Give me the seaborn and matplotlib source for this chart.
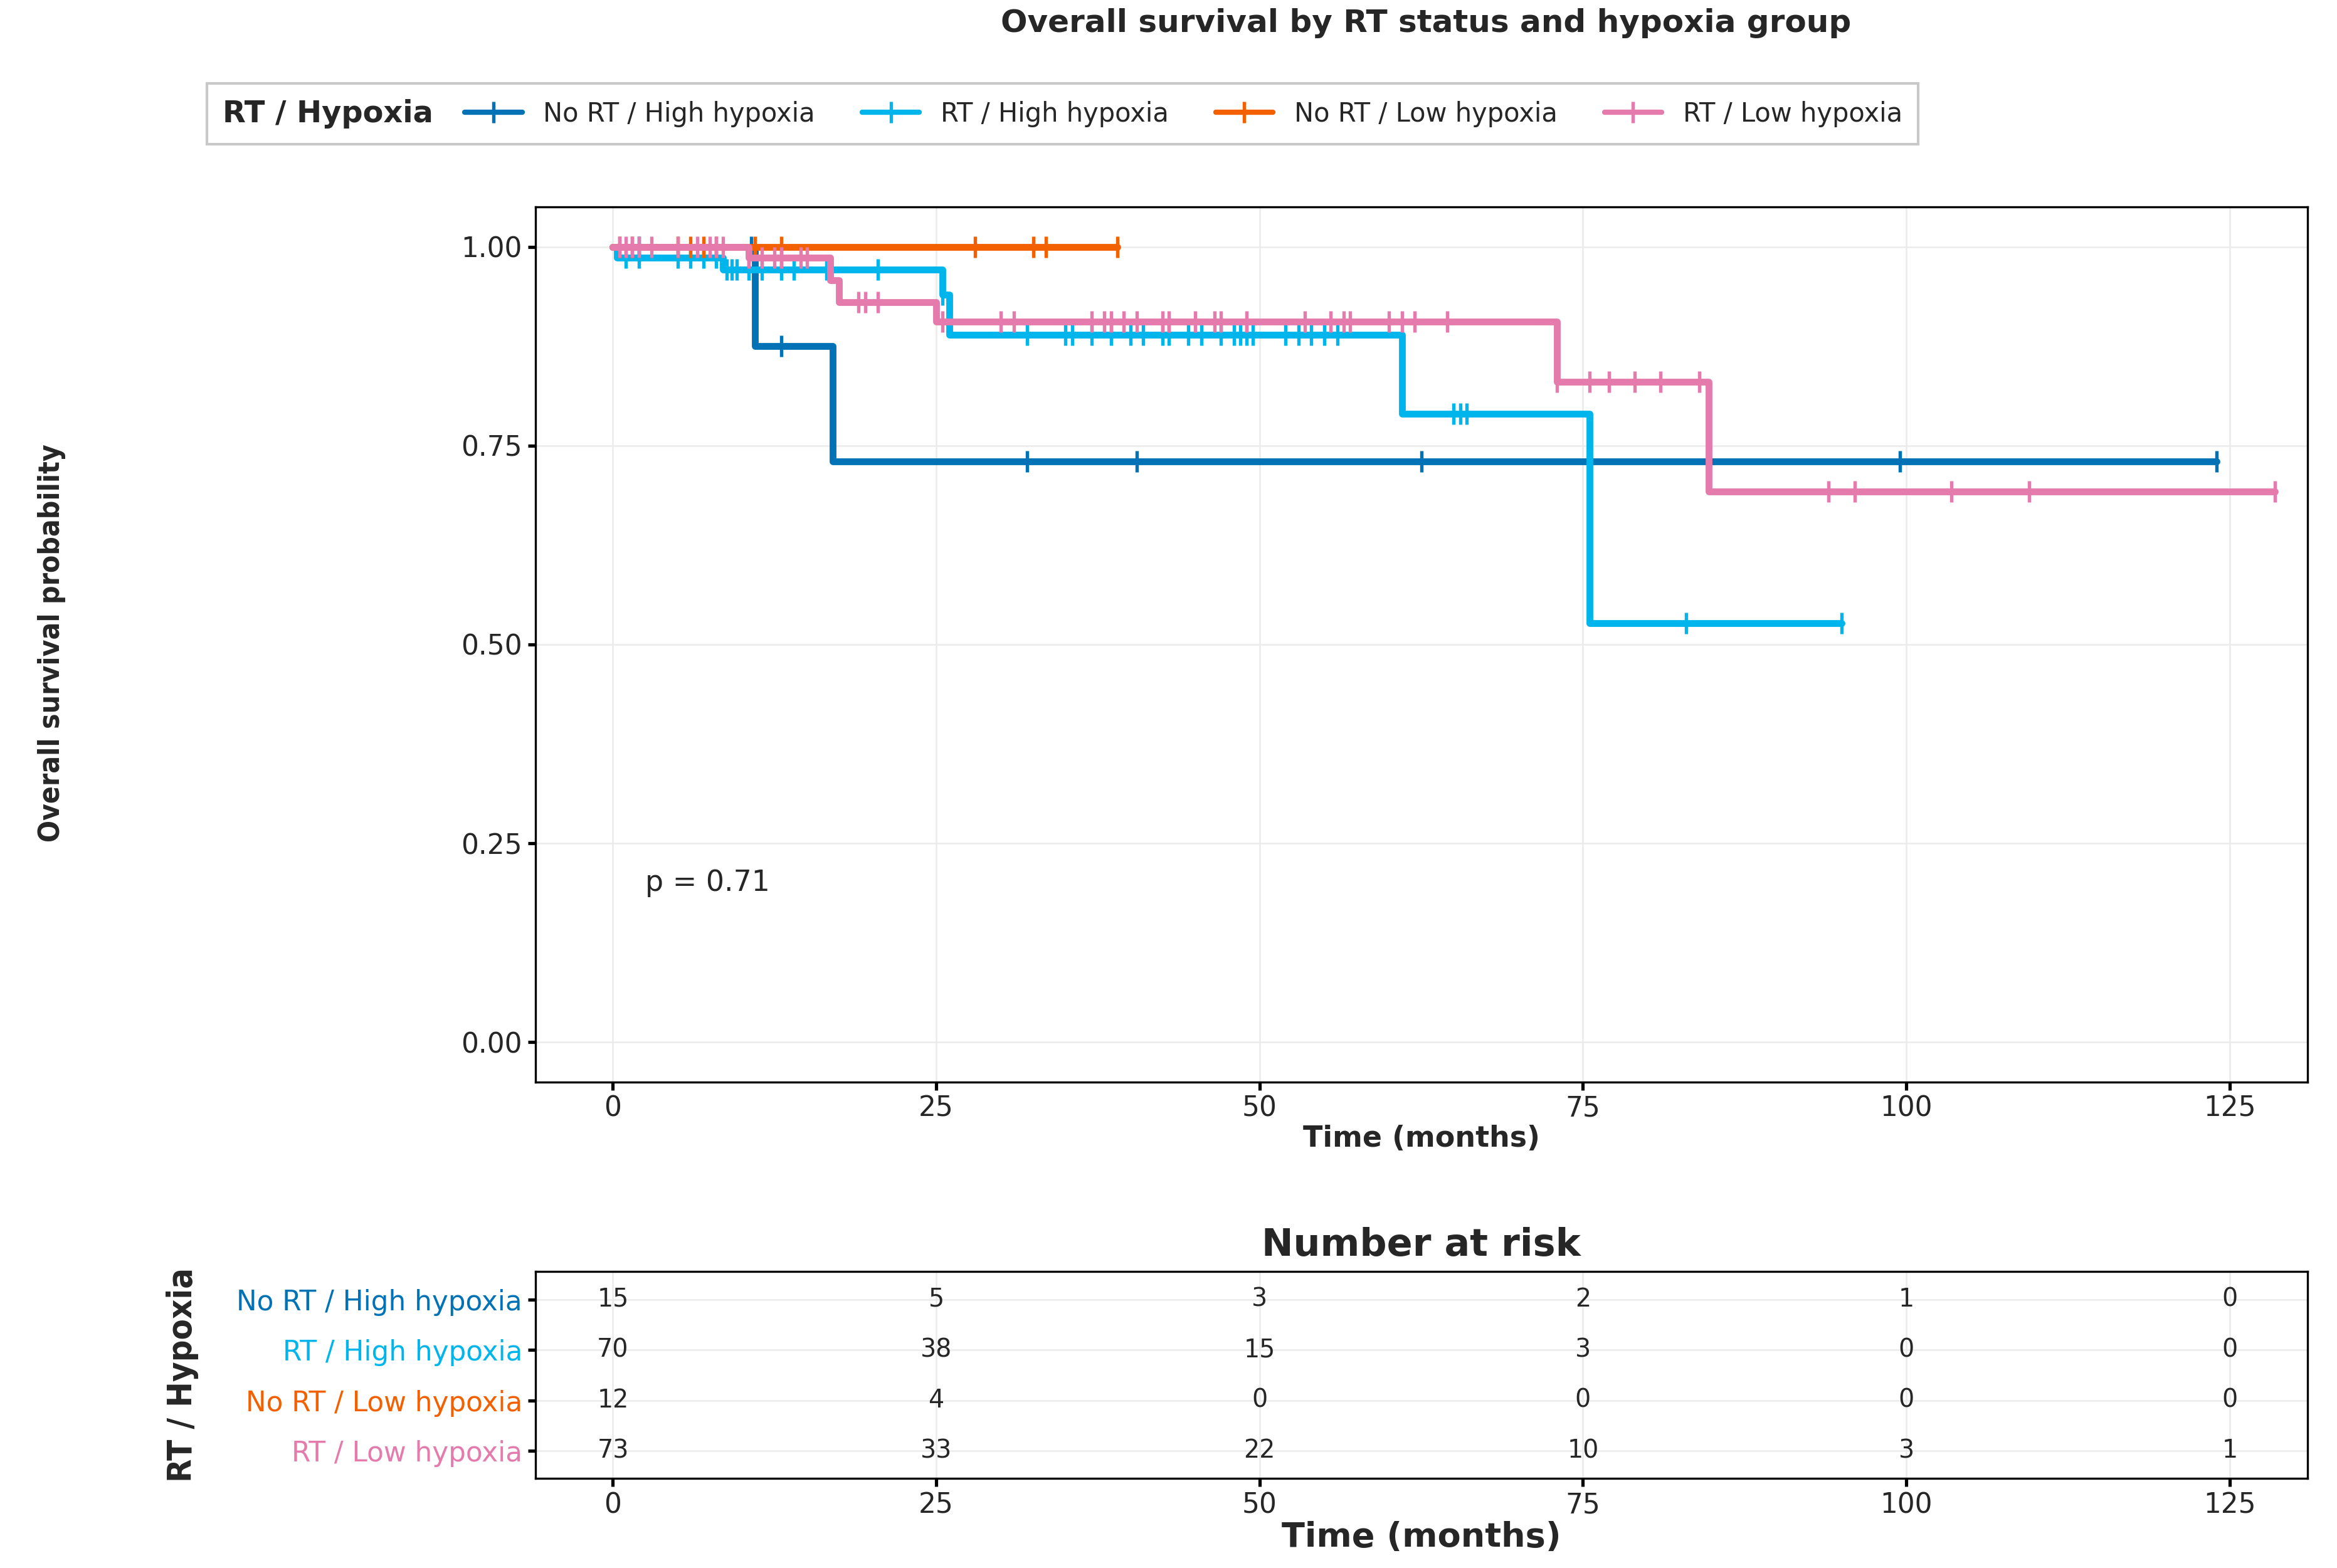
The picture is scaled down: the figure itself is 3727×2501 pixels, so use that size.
import numpy as np
import pandas as pd
import seaborn as sns
import matplotlib.pyplot as plt
from matplotlib.offsetbox import HPacker

groups = ["No RT / High hypoxia", "RT / High hypoxia", "No RT / Low hypoxia", "RT / Low hypoxia"]
colors = ["#0072B5", "#00B5EB", "#F26000", "#E57BAC"]

# step curves: event times and survival after each step
step_t = {
    "No RT / High hypoxia": [0, 11, 17, 124],
    "RT / High hypoxia": [0, 0.3, 8.5, 25.5, 26, 61, 75.5, 95],
    "No RT / Low hypoxia": [0, 39],
    "RT / Low hypoxia": [0, 10.5, 16.8, 17.5, 25, 73, 84.7, 128.5],
}
step_s = {
    "No RT / High hypoxia": [1.0, 0.875, 0.73, 0.73],
    "RT / High hypoxia": [1.0, 0.986, 0.971, 0.94, 0.889, 0.79, 0.527, 0.527],
    "No RT / Low hypoxia": [1.0, 1.0],
    "RT / Low hypoxia": [1.0, 0.986, 0.958, 0.93, 0.906, 0.83, 0.692, 0.692],
}
censor_t = {
    "No RT / High hypoxia": [2, 10.7, 13, 32, 40.5, 62.5, 99.5, 124],
    "RT / High hypoxia": [1, 2, 5, 6, 7, 8, 8.8, 9.2, 9.6, 10.5, 11.5, 13, 14, 16.5, 20.5, 25.5, 32, 35, 35.5, 37, 38.5, 40, 41,
                          42.5, 43, 44.5, 45.5, 47, 48, 48.5, 49, 49.5, 52, 53, 54, 55, 56, 65, 65.5, 66, 83, 95],
    "No RT / Low hypoxia": [0.5, 1.5, 5, 6, 7, 8, 11, 13, 28, 32.5, 33.5, 39],
    "RT / Low hypoxia": [0.5, 1, 1.5, 2, 3, 5, 6.5, 7.5, 8, 8.5, 10.5, 11.5, 12.5, 13, 14.5, 15, 19, 19.5, 20.5, 25.5, 30, 31,
                         37, 38, 38.5, 39.5, 40.5, 42.5, 43, 45, 46.5, 47, 49, 53.5, 55.5, 56.5, 57, 60, 61, 62, 64.5,
                         73, 75.5, 77, 79, 81, 84, 94, 96, 103.5, 109.5, 128.5],
}
risk_times = [0, 25, 50, 75, 100, 125]
risk = {
    "No RT / High hypoxia": [15, 5, 3, 2, 1, 0],
    "RT / High hypoxia": [70, 38, 15, 3, 0, 0],
    "No RT / Low hypoxia": [12, 4, 0, 0, 0, 0],
    "RT / Low hypoxia": [73, 33, 22, 10, 3, 1],
}

sns.set_theme(style="whitegrid")
plt.rcParams["font.family"] = ["DejaVu Sans"]
fig = plt.figure(figsize=(3728 / 300, 2501 / 300), dpi=300)
ax = fig.add_axes([0.229, 0.310, 0.758, 0.558])
axr = fig.add_axes([0.229, 0.057, 0.758, 0.132])

handles = []
for g, c in zip(groups, colors):
    df = pd.DataFrame({"t": step_t[g], "s": step_s[g]})
    sns.lineplot(data=df, x="t", y="s", drawstyle="steps-post", color=c, lw=2.6, ax=ax)
    ct = np.array(censor_t[g])
    idx = np.searchsorted(step_t[g], ct, side="right") - 1
    cs = np.array(step_s[g])[idx]
    ax.plot(ct, cs, ls="none", marker="|", ms=8, mew=1.3, color=c)
    h, = ax.plot([], [], color=c, lw=2.0, marker="|", ms=8, mew=1.3)
    handles.append(h)

for ax_ in (ax, axr):
    ax_.set_xlim(-6, 131)
    ax_.set_xticks(risk_times)
    for s in ax_.spines.values():
        s.set_color("black")
        s.set_linewidth(0.8)
    ax_.grid(color="#ebebeb", lw=0.6)
    ax_.tick_params(axis="both", length=3, color="black", left=True, bottom=True, labelsize=10.5, pad=2)

ax.set_ylim(-0.05, 1.05)
ax.set_yticks([0, 0.25, 0.5, 0.75, 1.0])
ax.set_yticklabels(["0.00", "0.25", "0.50", "0.75", "1.00"])
ax.set_xlabel("Time (months)", fontsize=11, fontweight="bold", labelpad=1)
ax.set_ylabel("")
fig.text(0.022, 0.59, "Overall survival probability", rotation=90, va="center", ha="center",
         fontsize=11, fontweight="bold", fontstretch="condensed")
ax.text(2.5, 0.19, "p = 0.71", fontsize=11)
fig.suptitle("Overall survival by RT status and hypoxia group", x=0.61, y=0.995, fontsize=12, fontweight="bold")

leg = fig.legend(handles, groups, loc="upper left", bbox_to_anchor=(0.083, 0.955), ncol=4,
                 title="RT / Hypoxia", fontsize=10, frameon=True, fancybox=False,
                 edgecolor="#bbbbbb", handlelength=2.2, columnspacing=1.8, borderpad=0.6)
leg.get_title().set_fontweight("bold")
leg.get_title().set_fontsize(11.5)
leg._legend_box._children = [HPacker(children=list(leg._legend_box.get_children()), pad=0, sep=12, align="center")]

for i, g in enumerate(groups):
    for t, n in zip(risk_times, risk[g]):
        axr.text(t, i, str(n), ha="center", va="center", fontsize=9.5)
axr.set_ylim(3.55, -0.55)
axr.set_yticks(range(4))
axr.set_yticklabels(groups, fontsize=10.5)
for lab, c in zip(axr.get_yticklabels(), colors):
    lab.set_color(c)
axr.set_xlabel("Time (months)", fontsize=13, fontweight="bold", labelpad=1)
axr.set_ylabel("RT / Hypoxia", fontsize=13, fontweight="bold", fontstretch="condensed")
axr.yaxis.set_label_coords(-0.19, 0.5)
axr.set_title("Number at risk", fontsize=14.5, fontweight="bold", pad=6)

fig.savefig("out.png", dpi=300)
